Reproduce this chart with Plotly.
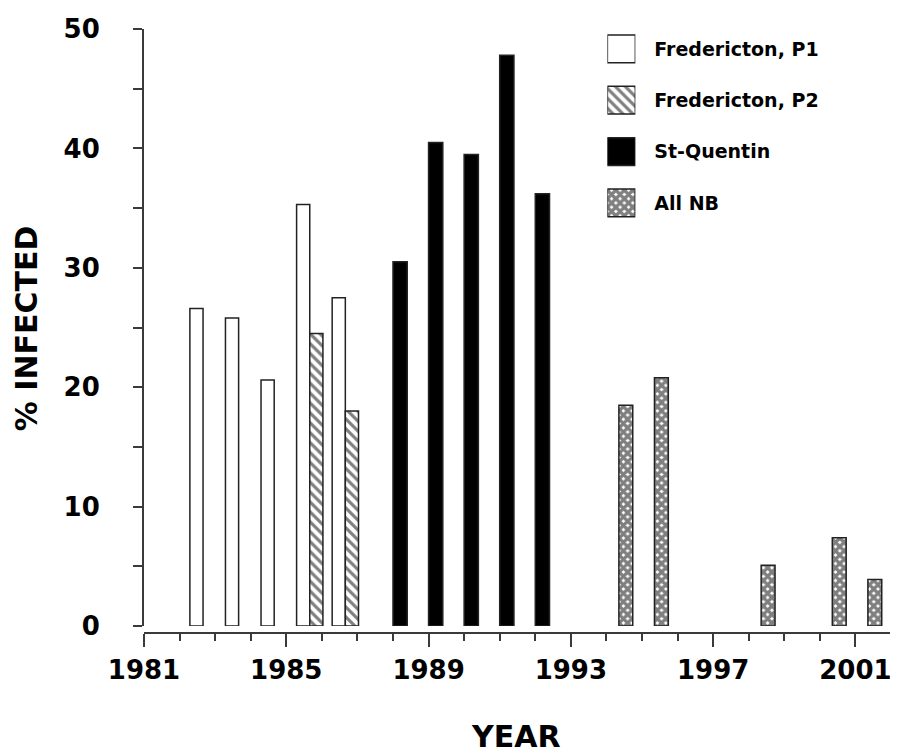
import plotly.graph_objects as go

# ---------------- data ----------------
series_names = ["Fredericton, P1", "Fredericton, P2", "St-Quentin", "All NB"]

p1_years = [1982, 1983, 1984, 1985, 1986]
p1_values = [26.6, 25.8, 20.6, 35.3, 27.5]

p2_years = [1985, 1986]
p2_values = [24.5, 18.0]

sq_years = [1988, 1989, 1990, 1991, 1992]
sq_values = [30.5, 40.5, 39.5, 47.8, 36.2]

nb_years = [1994, 1995, 1998, 2000, 2001]
nb_values = [18.5, 20.8, 5.1, 7.4, 3.9]

y_ticks = [0, 10, 20, 30, 40, 50]
x_tick_labels = [1981, 1985, 1989, 1993, 1997, 2001]

# ---------------- layout geometry (page px; the page body adds an 8px margin) ----------------
O = 8
W, H = 898 - O, 755 - O
ML, MT = 144 - O, 25 - O
PLOT_R, PLOT_B = 892 - O, 633 - O
MR, MB = W - PLOT_R, H - PLOT_B
PH = PLOT_B - MT
PW = PLOT_R - ML
FONT = "DejaVu Sans"
LINE = "#3a3a3a"

outline = dict(color="#222222", width=1.5)
styles = {
    "Fredericton, P1": dict(color="white", pattern=dict(shape=""), line=outline),
    "Fredericton, P2": dict(color="white",
                            pattern=dict(shape="\\", fgcolor="black", bgcolor="white",
                                         size=7, solidity=0.45),
                            line=outline),
    "St-Quentin": dict(color="black", pattern=dict(shape=""), line=outline),
    "All NB": dict(color="white",
                   pattern=dict(shape="x", fgcolor="black", bgcolor="white",
                                size=6, solidity=0.8),
                   line=outline),
}
placement = {
    "Fredericton, P1": dict(offset=0.29, width=0.37),
    "Fredericton, P2": dict(offset=0.66, width=0.37),
    "St-Quentin": dict(offset=0.0, width=0.40),
    "All NB": dict(offset=0.35, width=0.39),
}
data = {
    "Fredericton, P1": (p1_years, p1_values),
    "Fredericton, P2": (p2_years, p2_values),
    "St-Quentin": (sq_years, sq_values),
    "All NB": (nb_years, nb_values),
}

fig = go.Figure()
for name in series_names:
    xs, ys = data[name]
    fig.add_trace(go.Bar(
        x=xs, y=ys, name=name, marker=styles[name],
        offset=placement[name]["offset"], width=placement[name]["width"],
        showlegend=False, xaxis="x", yaxis="y",
    ))

# legend swatches drawn as an inset bar chart
for name in series_names:
    fig.add_trace(go.Bar(
        x=[1], y=[name], orientation="h", marker=styles[name], width=0.54,
        showlegend=False, xaxis="x2", yaxis="y2", hoverinfo="skip",
    ))

def px_x(p):  # page px -> paper fraction
    return (p - O - ML) / PW

def px_y(p):
    return (PLOT_B - (p - O)) / PH

row0, rowgap = 45, 51.7
leg_top = 25
leg_bottom = 230

fig.update_layout(
    width=W, height=H,
    margin=dict(l=ML, r=MR, t=MT, b=MB),
    paper_bgcolor="white", plot_bgcolor="white",
    barmode="overlay", showlegend=False,
    font=dict(family=FONT, color="black", weight="bold"),
    xaxis=dict(
        range=[1981, 2002], anchor="free", position=0,
        tickmode="array", tickvals=x_tick_labels, ticktext=[str(v) for v in x_tick_labels],
        ticks="outside", ticklen=13, tickwidth=2, tickcolor=LINE,
        minor=dict(dtick=1, tick0=1981, ticks="outside", ticklen=7, tickwidth=2, tickcolor=LINE),
        showline=True, linecolor=LINE, linewidth=2,
        showgrid=False, zeroline=False,
        tickfont=dict(size=26, family=FONT, weight="bold"),
        ticklabelstandoff=1,
    ),
    yaxis=dict(
        domain=[7 / PH, 1], range=[0, 50],
        tickmode="array", tickvals=y_ticks,
        ticks="outside", ticklen=9, tickwidth=2, tickcolor=LINE,
        minor=dict(dtick=5, ticks="outside", ticklen=9, tickwidth=2, tickcolor=LINE),
        showline=True, linecolor=LINE, linewidth=2,
        showgrid=False, zeroline=False,
        tickfont=dict(size=26, family=FONT, weight="bold"),
        ticklabelstandoff=28,
    ),
    xaxis2=dict(
        domain=[px_x(608), px_x(636)], range=[0, 1], anchor="y2",
        visible=False, fixedrange=True,
    ),
    yaxis2=dict(
        domain=[px_y(leg_bottom), px_y(leg_top)], anchor="x2", side="right",
        type="category", categoryorder="array", categoryarray=series_names,
        range=[(leg_bottom - row0) / rowgap, -(row0 - leg_top) / rowgap],
        ticks="", showline=False, showgrid=False, zeroline=False,
        tickfont=dict(size=19, family=FONT, weight="bold"),
        ticklabelstandoff=18,
    ),
    annotations=[
        dict(text="% INFECTED", xref="paper", yref="paper",
             x=px_x(26), y=px_y(326), xanchor="center", yanchor="middle",
             textangle=-90, showarrow=False,
             font=dict(size=30, family=FONT, weight="bold")),
        dict(text="YEAR", xref="paper", yref="paper",
             x=px_x(516), y=px_y(737), xanchor="center", yanchor="middle",
             showarrow=False,
             font=dict(size=30, family=FONT, weight="bold")),
    ],
)

fig.write_html("out.html")
